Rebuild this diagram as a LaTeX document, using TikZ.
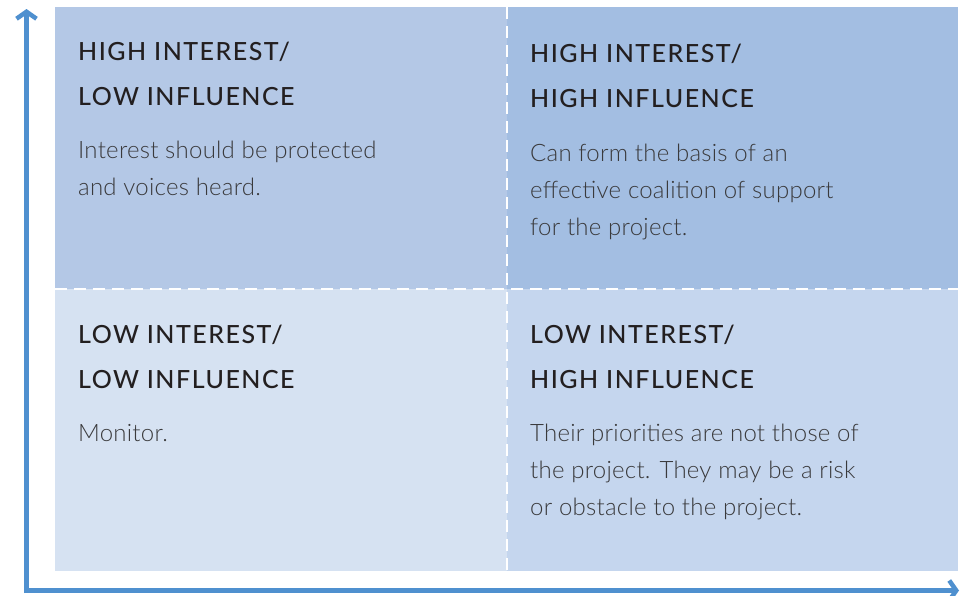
\documentclass[tikz,border=0pt]{standalone}
\usepackage{fontspec}
\setmainfont{Lato}
\newfontfamily\headfont{Lato}[UprightFont=* Medium,LetterSpace=6]
\newfontfamily\lightfont{Lato}[UprightFont=* Light,LetterSpace=1]
\usetikzlibrary{arrows.meta}
\definecolor{qTL}{HTML}{B4C8E6}
\definecolor{qTR}{HTML}{A3BEE2}
\definecolor{qBL}{HTML}{D6E2F2}
\definecolor{qBR}{HTML}{C5D6EE}
\definecolor{axisblue}{HTML}{4F90CF}
\definecolor{headtxt}{HTML}{231F20}
\definecolor{bodytxt}{HTML}{3A3A3C}
\tikzset{
  heading/.style={anchor=base west,inner sep=0pt,text=headtxt,font=\headfont\fontsize{25}{30}\selectfont},
  bodytext/.style={anchor=base west,inner sep=0pt,text=bodytxt,font=\lightfont\fontsize{24}{28}\selectfont},
  axisline/.style={draw=axisblue,line width=4.5pt},
  divider/.style={draw=white,line width=2.5pt,dash pattern=on 12pt off 7pt},
  axistip/.style={-{Straight Barb[length=7pt,width=20pt,line width=4.5pt]}}
}
\begin{document}
\begin{tikzpicture}[x=1pt,y=-1pt]
\useasboundingbox (0,0) rectangle (962,595);
% quadrants
\fill[qTL] (55,7) rectangle (507,289);
\fill[qTR] (507,7) rectangle (958,289);
\fill[qBL] (55,289) rectangle (507,571);
\fill[qBR] (507,289) rectangle (958,571);
% dividers
\coordinate (vtop) at (507,7);
\coordinate (vbot) at (507,571);
\coordinate (hleft) at (55,289);
\coordinate (hright) at (958,289);
\draw[divider] (vtop) -- (vbot);
\draw[divider] (hleft) -- (hright);
% axes
\coordinate (origin) at (26.5,593);
\coordinate (ytop) at (26.5,9);
\coordinate (xorig) at (24,590.5);
\coordinate (xend) at (959,590.5);
\draw[axisline,axistip] (origin) -- (ytop);
\draw[axisline,axistip] (xorig) -- (xend);
% top-left
\node[heading] (tlh1) at (78,60) {HIGH INTEREST/};
\node[heading] (tlh2) at (78,105) {LOW INFLUENCE};
\node[bodytext] (tlb1) at (78,158) {Interest should be protected};
\node[bodytext] (tlb2) at (78,195) {and voices heard.};
% top-right
\node[heading] (trh1) at (530,62) {HIGH INTEREST/};
\node[heading] (trh2) at (530,107) {HIGH INFLUENCE};
\node[bodytext] (trb1) at (530,161) {Can form the basis of an};
\node[bodytext] (trb2) at (530,198) {effective coalition of support};
\node[bodytext] (trb3) at (530,235) {for the project.};
% bottom-left
\node[heading] (blh1) at (78,343) {LOW INTEREST/};
\node[heading] (blh2) at (78,388) {LOW INFLUENCE};
\node[bodytext] (blb1) at (78,441) {Monitor.};
% bottom-right
\node[heading] (brh1) at (530,343) {LOW INTEREST/};
\node[heading] (brh2) at (530,388) {HIGH INFLUENCE};
\node[bodytext] (brb1) at (530,441) {Their priorities are not those of};
\node[bodytext] (brb2) at (530,478) {the project. They may be a risk};
\node[bodytext] (brb3) at (530,515) {or obstacle to the project.};
\end{tikzpicture}
\end{document}
